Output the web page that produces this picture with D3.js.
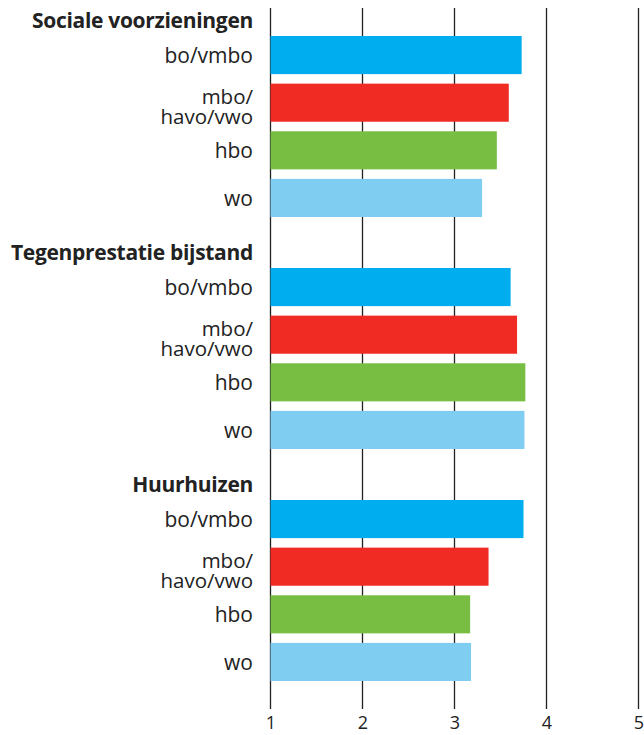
<!DOCTYPE html>
<html><head><meta charset="utf-8">
<script src="https://cdn.jsdelivr.net/npm/d3@7"></script>
<style>body{margin:0;background:#fff}svg{display:block}text{font-family:"Open Sans",sans-serif;fill:#222}</style>
</head><body>
<script>
const groups = ["Sociale voorzieningen", "Tegenprestatie bijstand", "Huurhuizen"];
const levels = ["bo/vmbo", "mbo/\nhavo/vwo", "hbo", "wo"];
const colors = ["#00AEEF", "#EF2B24", "#77BE43", "#7FCEF2"];
const valuesSociale = [3.73, 3.59, 3.46, 3.30];
const valuesTegen = [3.61, 3.68, 3.77, 3.76];
const valuesHuur = [3.75, 3.37, 3.17, 3.18];
const tickValues = [1, 2, 3, 4, 5];
const allValues = [valuesSociale, valuesTegen, valuesHuur];

const W = 644, H = 735;
const svg = d3.select("body").append("svg").attr("width", W).attr("height", H);

const x = d3.scaleLinear().domain([1, 5]).range([270.5, 638.5]);
const yGroup = d3.scaleBand().domain(groups).range([36, 36 + 232 * 3]).paddingInner(0);
const yLevel = d3.scaleBand().domain(levels).range([0, 181]).paddingInner(0.2).paddingOuter(0);

// grid lines
svg.append("g").selectAll("line").data(tickValues).join("line")
  .attr("x1", d => x(d)).attr("x2", d => x(d))
  .attr("y1", 8).attr("y2", 709)
  .attr("stroke", "#222").attr("stroke-width", 1.3);

groups.forEach((g, gi) => {
  const gy = yGroup(g);
  const grp = svg.append("g").attr("transform", `translate(0,${gy})`);
  grp.append("text").attr("x", 253).attr("y", -8)
    .attr("text-anchor", "end").attr("font-weight", "bold").attr("font-size", 21)
    .attr("letter-spacing", -0.3)
    .text(g);
  grp.selectAll("rect").data(allValues[gi]).join("rect")
    .attr("x", x(1)).attr("y", (d, i) => yLevel(levels[i]))
    .attr("width", d => x(d) - x(1)).attr("height", yLevel.bandwidth())
    .attr("fill", (d, i) => colors[i]);
  levels.forEach(l => {
    const lines = l.split("\n");
    const cy = yLevel(l) + yLevel.bandwidth() / 2;
    if (lines.length === 1) {
      grp.append("text").attr("text-anchor", "end").attr("font-size", 21)
        .attr("x", 253).attr("y", cy).attr("dy", "0.36em").text(lines[0]);
    } else {
      const t = grp.append("text").attr("text-anchor", "end").attr("font-size", 20.5);
      lines.forEach((ln, k) => {
        t.append("tspan").attr("x", 253).attr("y", cy + 1 + k * 20.5).text(ln);
      });
    }
  });
});

// axis labels
const axis = d3.axisBottom(x).tickValues(tickValues).tickSize(0).tickPadding(0).tickFormat(d3.format("d"));
const ag = svg.append("g").attr("transform", "translate(0,729)").call(axis);
ag.select(".domain").remove();
ag.selectAll("text").attr("dy", null).attr("font-size", 18).attr("fill", "#222").style("font-family", '"Open Sans",sans-serif');
</script>
</body></html>
